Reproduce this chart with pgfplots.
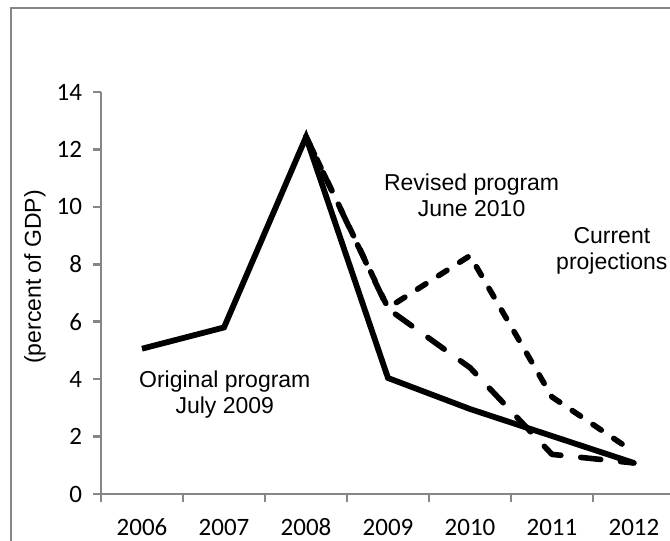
\documentclass[border=0pt]{standalone}
\usepackage{pgfplots}
\pgfplotsset{compat=1.18}
\usepackage{fontspec}
\setmainfont{Liberation Sans}
\newfontfamily\tickfont{Carlito}
\definecolor{axisgray}{RGB}{134,134,134}

\begin{document}
\begin{tikzpicture}
\draw[axisgray, line width=0.7pt] (5.5pt,-20pt) rectangle (350pt,266.5pt);
\begin{axis}[
  at={(50.5pt,23.5pt)}, anchor=south west,
  scale only axis, width=287pt, height=201pt,
  xmin=-0.5, xmax=6.5, ymin=0, ymax=14,
  axis x line*=bottom, axis y line*=left,
  axis line style={axisgray, line width=1.3pt, -},
  every tick/.style={axisgray, line width=1.3pt},
  tick align=outside,
  xtick={0,...,6},
  xticklabels={2006,2007,2008,2009,2010,2011,2012},
  major x tick style={draw=none},
  minor xtick={-0.5,0.5,...,6.5},
  minor tick length=4pt,
  ytick={0,2,...,14},
  major tick length=4pt,
  /pgf/number format/assume math mode=true,
  tick label style={font=\tickfont\fontsize{12.5}{14}\selectfont, black},
  xticklabel style={anchor=base, yshift=-16.5pt},
  yticklabel style={xshift=-2pt},
  ylabel={(percent of GDP)},
  ylabel style={font=\fontsize{11.5}{13}\selectfont, at={(axis description cs:-0.115,0.54)}, anchor=center},
  clip=false,
]
\addplot[black, line width=2.8pt, line cap=round, line join=round,
  dash pattern=on 10pt off 10pt]
  coordinates {(2,12.45)(3,6.45)(4,4.4)(5,1.38)(6,1.08)};
\addplot[black, line width=2.8pt, line cap=round, line join=round,
  dash pattern=on 5pt off 7.5pt]
  coordinates {(2,12.45)(3,6.48)(4,8.3)(5,3.38)(6,1.46)};
\addplot[black, line width=2.9pt]
  coordinates {(0,5.06)(1,5.8)(2,12.43)(3,4.04)(4,2.96)(5,2.02)(6,1.08)};
\node[align=center, font=\fontsize{11.5}{13}\selectfont] at (axis cs:1.01,3.48) {Original program\\July 2009};
\node[align=center, font=\fontsize{11.5}{13}\selectfont] at (axis cs:4.02,10.4) {Revised program\\June 2010};
\node[align=center, font=\fontsize{11.5}{13}\selectfont] at (axis cs:5.73,8.48) {Current\\projections};
\end{axis}
\pgfresetboundingbox
\useasboundingbox (0,0) rectangle (335pt,270.5pt);
\end{tikzpicture}
\end{document}
